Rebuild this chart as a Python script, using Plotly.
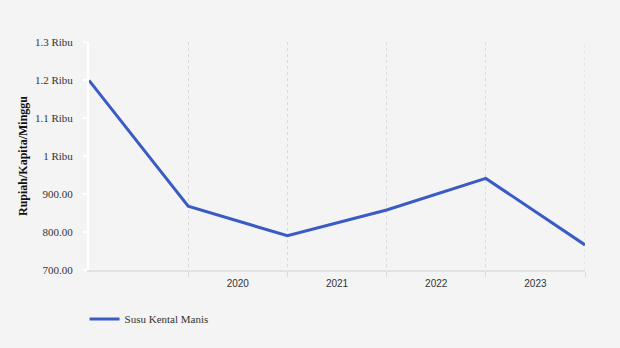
import plotly.graph_objects as go

# Weekly per-capita spending on sweetened condensed milk (Rupiah)
periods = [0, 1, 2, 3, 4, 5]
values = [1199, 868, 790, 858, 941, 766]
series_name = "Susu Kental Manis"

year_positions = [1.5, 2.5, 3.5, 4.5]
year_labels = ["2020", "2021", "2022", "2023"]
grid_positions = [1, 2, 3, 4, 5]

y_tickvals = [700, 800, 900, 1000, 1100, 1200, 1300]
y_ticktext = ["700.00", "800.00", "900.00", "1 Ribu", "1.1 Ribu", "1.2 Ribu", "1.3 Ribu"]

bg = "#f4f4f4"
grid_color = "#dadada"
serif = "Liberation Serif"

fig = go.Figure()
fig.add_trace(go.Scatter(
    x=periods, y=values, mode="lines", name=series_name,
    line=dict(color="#3a5bc5", width=3),
    showlegend=True,
))

# plotly skips a grid line that sits on the axis edge, so draw the last one
fig.add_shape(
    type="line", xref="x", yref="paper",
    x0=grid_positions[-1], x1=grid_positions[-1], y0=0, y1=1,
    line=dict(color=grid_color, width=1, dash="3px,3px"), layer="below",
)

fig.update_layout(
    width=620, height=348,
    paper_bgcolor=bg, plot_bgcolor=bg,
    margin=dict(l=89, r=35, t=42, b=78, autoexpand=False),
    showlegend=True,
    legend=dict(
        orientation="h", x=-0.009, xanchor="left", y=-0.215, yanchor="middle",
        font=dict(family=serif, size=11, color="#333333"),
        bgcolor="rgba(0,0,0,0)",
    ),
    xaxis=dict(
        range=[0, 5], showgrid=False, zeroline=False,
        tickmode="array", tickvals=year_positions, ticktext=year_labels,
        ticks="", ticklabelstandoff=3,
        tickfont=dict(family="Liberation Sans", size=10, color="#333333"),
        showline=True, linecolor="#e2e2e2", linewidth=2,
        minor=dict(tickmode="array", tickvals=grid_positions, showgrid=True,
                   gridcolor=grid_color, gridwidth=1, griddash="3px,3px",
                   ticks="outside", ticklen=5, tickcolor=grid_color, tickwidth=1),
        fixedrange=True,
    ),
    yaxis=dict(
        range=[700, 1300], showgrid=False, zeroline=False,
        tickmode="array", tickvals=y_tickvals, ticktext=y_ticktext,
        ticks="outside", ticklen=4, tickcolor="#ffffff", tickwidth=2,
        ticklabelstandoff=8,
        tickfont=dict(family=serif, size=11, color="#333333"),
        showline=True, linecolor="#ffffff", linewidth=2,
        fixedrange=True,
    ),
    annotations=[dict(
        text="<b>Rupiah/Kapita/Minggu</b>", textangle=-90,
        xref="paper", yref="paper", x=(23 - 89) / 496, y=0.5,
        xanchor="center", yanchor="middle", showarrow=False,
        font=dict(family=serif, size=12, color="#111111"),
    )],
)

fig.write_html("out.html")
